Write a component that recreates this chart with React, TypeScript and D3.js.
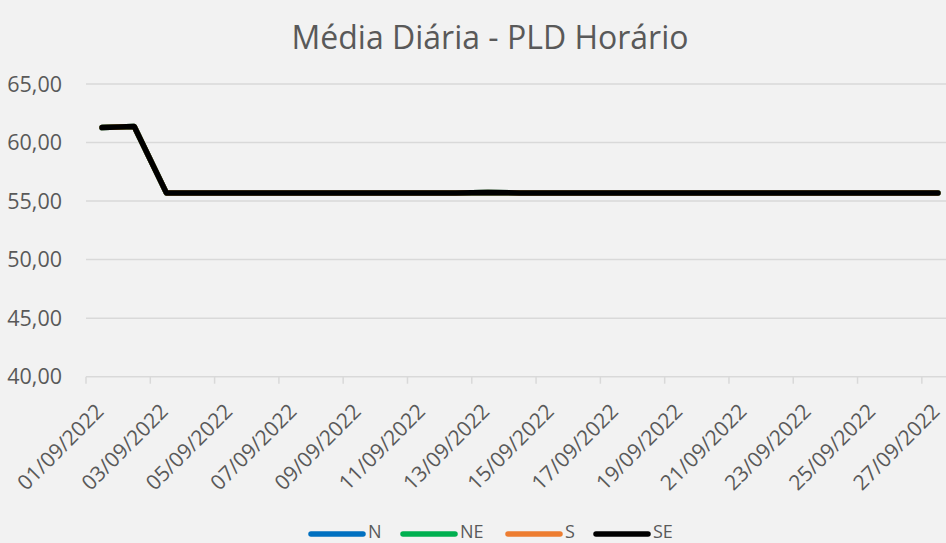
import * as d3 from "d3";

const days = d3.range(1, 28).map(d => `${String(d).padStart(2, "0")}/09/2022`);
// all four submarkets share the same daily average
const valN = [61.28, 61.37, 55.7, 55.7, 55.7, 55.7, 55.7, 55.7, 55.7, 55.7, 55.7, 55.7, 55.74, 55.7, 55.7, 55.7, 55.7, 55.7, 55.7, 55.7, 55.7, 55.7, 55.7, 55.7, 55.7, 55.7, 55.7];
const valNE = [61.28, 61.37, 55.7, 55.7, 55.7, 55.7, 55.7, 55.7, 55.7, 55.7, 55.7, 55.7, 55.74, 55.7, 55.7, 55.7, 55.7, 55.7, 55.7, 55.7, 55.7, 55.7, 55.7, 55.7, 55.7, 55.7, 55.7];
const valS = [61.28, 61.37, 55.7, 55.7, 55.7, 55.7, 55.7, 55.7, 55.7, 55.7, 55.7, 55.7, 55.74, 55.7, 55.7, 55.7, 55.7, 55.7, 55.7, 55.7, 55.7, 55.7, 55.7, 55.7, 55.7, 55.7, 55.7];
const valSE = [61.28, 61.37, 55.7, 55.7, 55.7, 55.7, 55.7, 55.7, 55.7, 55.7, 55.7, 55.7, 55.74, 55.7, 55.7, 55.7, 55.7, 55.7, 55.7, 55.7, 55.7, 55.7, 55.7, 55.7, 55.7, 55.7, 55.7];
const yTicks = [40, 45, 50, 55, 60, 65];

const series = [
  { name: "N", color: "#0070c0", values: valN },
  { name: "NE", color: "#00b050", values: valNE },
  { name: "S", color: "#ed7d31", values: valS },
  { name: "SE", color: "#000000", values: valSE },
];

const W = 946, H = 543;
const font = "'Open Sans', 'Noto Sans', sans-serif";
const grey = "#595959";

export default function App() {
  const x = d3.scaleBand<string>().domain(days).range([86, 954]).padding(0);
  const y = d3.scaleLinear().domain([40, 65]).range([376.7, 84]);
  const bw = x.bandwidth();
  const line = d3.line<number>()
    .x((_, i) => x(days[i])! + bw / 2)
    .y(v => y(v));
  const fmt = (v: number) => v.toFixed(2).replace(".", ",");
  const legendX = [310, 402, 507, 595];

  return (
    <svg width={W} height={H} style={{ position: "absolute", left: 0, top: 0, background: "#f2f2f2" }} fontFamily={font}>
      <rect width={W} height={H} fill="#f2f2f2" />
      <text x={490} y={49} textAnchor="middle" fontSize={32} fill={grey}>Média Diária - PLD Horário</text>

      {yTicks.map(t => (
        <g key={t}>
          <line x1={86} x2={954} y1={y(t)} y2={y(t)} stroke="#d9d9d9" strokeWidth={1.5} />
          <text x={62} y={y(t) + 7.5} textAnchor="end" fontSize={21.5} fill={grey}>{fmt(t)}</text>
        </g>
      ))}

      {days.map((d, i) => i % 2 === 0 && (
        <g key={d}>
          <line x1={x(d)!} x2={x(d)!} y1={y(40)} y2={y(40) + 7} stroke="#d9d9d9" strokeWidth={1.5} />
          <text
            transform={`translate(${x(d)! + bw / 2 + 3},${y(40) + 36}) rotate(-45)`}
            textAnchor="end" fontSize={21} fill={grey}
          >{d}</text>
        </g>
      ))}

      {series.map(s => (
        <path key={s.name} d={line(s.values)!} fill="none" stroke={s.color} strokeWidth={5.5}
          strokeLinecap="round" strokeLinejoin="round" />
      ))}

      {series.map((s, i) => (
        <g key={s.name}>
          <line x1={legendX[i] + 1} x2={legendX[i] + 53} y1={534} y2={534} stroke={s.color} strokeWidth={5.5} strokeLinecap="round" />
          <text x={legendX[i] + 58} y={538} fontSize={18} fill={grey}>{s.name}</text>
        </g>
      ))}
    </svg>
  );
}
